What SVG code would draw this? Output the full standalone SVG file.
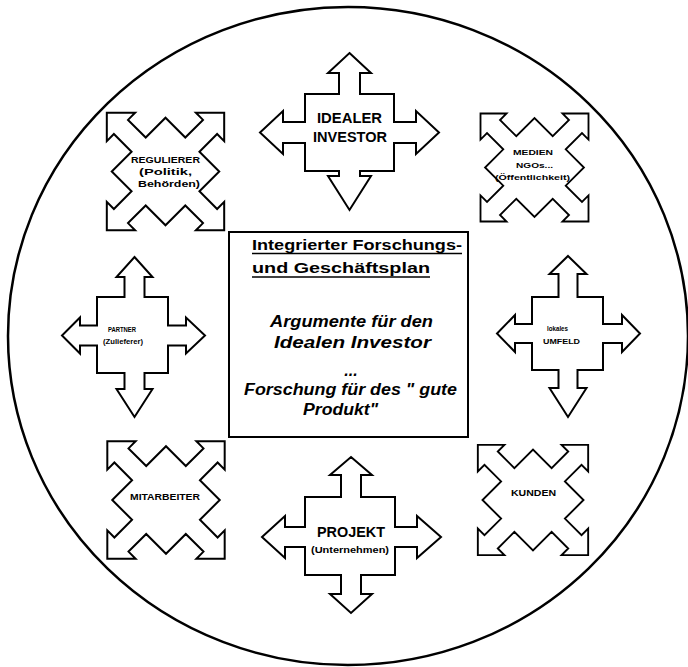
<svg xmlns="http://www.w3.org/2000/svg" xmlns:xlink="http://www.w3.org/1999/xlink" width="688" height="667" viewBox="0 0 688 667">
<style>
.shape{fill:#fff;stroke:#000;stroke-width:2;stroke-linejoin:miter}
.t{font-family:"Liberation Sans",Arial,sans-serif;font-weight:bold;fill:#000;text-anchor:middle}
.ti{font-family:"Liberation Sans",Arial,sans-serif;font-weight:bold;font-style:italic;fill:#000;text-anchor:middle;font-size:16px}
.tu{font-family:"Liberation Sans",Arial,sans-serif;font-weight:bold;fill:#000;font-size:15px}
</style>
<defs>
<path id="xcross" d="M 0 -83 L 20 -63 L 10 -63 L 10 -38 L 38 -38 L 38 -10 L 63 -10 L 63 -20 L 83 0 L 63 20 L 63 10 L 38 10 L 38 38 L 10 38 L 10 63 L 20 63 L 0 83 L -20 63 L -10 63 L -10 38 L -38 38 L -38 10 L -63 10 L -63 20 L -83 0 L -63 -20 L -63 -10 L -38 -10 L -38 -38 L -10 -38 L -10 -63 L -20 -63 Z"/>
</defs>
<rect width="688" height="667" fill="#fff"/>
<ellipse cx="348" cy="336" rx="340" ry="329" fill="none" stroke="#000" stroke-width="2.5"/>
<g id="connectors"/>

<g id="idealer">
<path class="shape" d="M 349.5 53 L 371 73 L 360 73 L 360 94 L 394 94 L 394 122 L 416 122 L 416 111 L 439 132.5 L 416 154 L 416 143 L 394 143 L 394 171 L 360 171 L 360 176 L 371 176 L 349.5 210 L 328 176 L 339 176 L 339 171 L 305 171 L 305 143 L 283 143 L 283 154 L 260 132.5 L 283 111 L 283 122 L 305 122 L 305 94 L 339 94 L 339 73 L 328 73 Z"/>
<text class="t" x="349.5" y="123" font-size="14" textLength="65" lengthAdjust="spacingAndGlyphs">IDEALER</text>
<text class="t" x="350" y="142" font-size="14" textLength="74" lengthAdjust="spacingAndGlyphs">INVESTOR</text>
</g>

<g id="regulierer">
<use xlink:href="#xcross" href="#xcross" class="shape" transform="translate(165.5 171.5) rotate(45)"/>
<text class="t" x="165.5" y="163" font-size="9" textLength="69" lengthAdjust="spacingAndGlyphs">REGULIERER</text>
<text class="t" x="165.5" y="175" font-size="9" textLength="53" lengthAdjust="spacingAndGlyphs">(Politik,</text>
<text class="t" x="169" y="187" font-size="9" textLength="62" lengthAdjust="spacingAndGlyphs">Behörden)</text>
</g>

<g id="medien">
<use xlink:href="#xcross" href="#xcross" class="shape" transform="translate(534.5 167.5) rotate(45) scale(0.92)"/>
<text class="t" x="533" y="155" font-size="8" textLength="40" lengthAdjust="spacingAndGlyphs">MEDIEN</text>
<text class="t" x="534.5" y="168" font-size="8" textLength="37" lengthAdjust="spacingAndGlyphs">NGOs...</text>
<text class="t" x="532.5" y="180" font-size="8" textLength="75" lengthAdjust="spacingAndGlyphs">(Öffentlichkeit)</text>
</g>

<g id="partner">
<path class="shape" d="M 134.5 257 L 152.5 277 L 144.5 277 L 144.5 297 L 168 297 L 168 325.5 L 186 325.5 L 186 317.5 L 205 335.5 L 186 353.5 L 186 345.5 L 168 345.5 L 168 373 L 144.5 373 L 144.5 389 L 152.5 389 L 134.5 417 L 116.5 389 L 124.5 389 L 124.5 373 L 97 373 L 97 345.5 L 80 345.5 L 80 353.5 L 62 335.5 L 80 317.5 L 80 325.5 L 97 325.5 L 97 297 L 124.5 297 L 124.5 277 L 116.5 277 Z"/>
<text class="t" x="122" y="332" font-size="8" textLength="28" lengthAdjust="spacingAndGlyphs">PARTNER</text>
<text class="t" x="123" y="344" font-size="8" textLength="40" lengthAdjust="spacingAndGlyphs">(Zulieferer)</text>
</g>

<g id="umfeld">
<path class="shape" d="M 568 256 L 586.5 274 L 577.5 274 L 577.5 297 L 603 297 L 603 324 L 622 324 L 622 315 L 640 333.5 L 622 352 L 622 343 L 603 343 L 603 370 L 577.5 370 L 577.5 388 L 586.5 388 L 568 417 L 549.5 388 L 558.5 388 L 558.5 370 L 532 370 L 532 343 L 515 343 L 515 352 L 497 333.5 L 515 315 L 515 324 L 532 324 L 532 297 L 558.5 297 L 558.5 274 L 549.5 274 Z"/>
<text class="t" x="557.5" y="331" font-size="8" textLength="21" lengthAdjust="spacingAndGlyphs">lokales</text>
<text class="t" x="561.5" y="344" font-size="8" textLength="37" lengthAdjust="spacingAndGlyphs">UMFELD</text>
</g>

<g id="mitarbeiter">
<use xlink:href="#xcross" href="#xcross" class="shape" transform="translate(166 500) rotate(45)"/>
<text class="t" x="165" y="500" font-size="9" textLength="70" lengthAdjust="spacingAndGlyphs">MITARBEITER</text>
</g>

<g id="kunden">
<use xlink:href="#xcross" href="#xcross" class="shape" transform="translate(533 500) rotate(45) scale(0.94)"/>
<text class="t" x="533.5" y="496" font-size="9" textLength="45" lengthAdjust="spacingAndGlyphs">KUNDEN</text>
</g>

<g id="projekt">
<path class="shape" d="M 351 457 L 372 475 L 361 475 L 361 497 L 395 497 L 395 527 L 417 527 L 417 516 L 441 537 L 417 558 L 417 547 L 395 547 L 395 575 L 361 575 L 361 594 L 372 594 L 351 613 L 330 594 L 341 594 L 341 575 L 305 575 L 305 547 L 285 547 L 285 558 L 262 537 L 285 516 L 285 527 L 305 527 L 305 497 L 341 497 L 341 475 L 330 475 Z"/>
<text class="t" x="351" y="537" font-size="15" textLength="68" lengthAdjust="spacingAndGlyphs">PROJEKT</text>
<text class="t" x="350" y="553" font-size="9" textLength="78" lengthAdjust="spacingAndGlyphs">(Unternehmen)</text>
</g>

<g id="plan">
<rect x="229" y="232" width="239" height="205" fill="#fff" stroke="#000" stroke-width="2"/>
<text class="tu" x="252" y="250" textLength="210" lengthAdjust="spacingAndGlyphs">Integrierter Forschungs-</text>
<line x1="252" y1="253.5" x2="462" y2="253.5" stroke="#000" stroke-width="1.5"/>
<text class="tu" x="252" y="273" textLength="178" lengthAdjust="spacingAndGlyphs">und Geschäftsplan</text>
<line x1="252" y1="277" x2="430" y2="277" stroke="#000" stroke-width="1.5"/>
<text class="ti" x="351.5" y="327" textLength="163" lengthAdjust="spacingAndGlyphs">Argumente für den</text>
<text class="ti" x="352.5" y="348" textLength="157" lengthAdjust="spacingAndGlyphs">Idealen Investor</text>
<text class="ti" x="351" y="376" font-size="12">...</text>
<text class="ti" x="350.5" y="395" textLength="213" lengthAdjust="spacingAndGlyphs">Forschung für des " gute</text>
<text class="ti" x="340.5" y="415" textLength="75" lengthAdjust="spacingAndGlyphs">Produkt"</text>
</g>
</svg>
